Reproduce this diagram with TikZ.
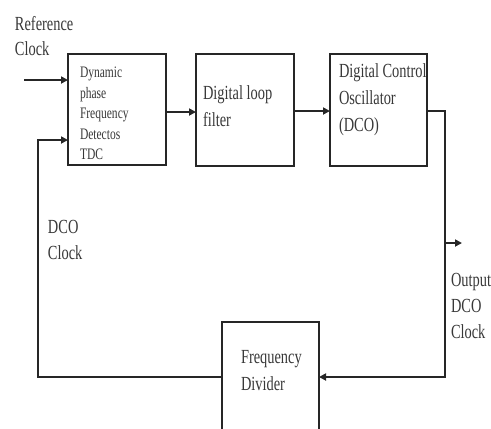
\documentclass[tikz,border=0pt]{standalone}
\usepackage{fontspec}
\setmainfont{Liberation Serif}[FakeStretch=0.72]
\usetikzlibrary{arrows.meta}
\begin{document}
\begin{tikzpicture}[x=1pt,y=-1pt,
  line width=2.3pt,
  lc/.style={draw=black!85},
  blk/.style={lc,rectangle,inner sep=0,outer sep=0,anchor=north west},
  txt/.style={text=black!78,align=left,inner sep=0,outer sep=0,anchor=north west},
  arr/.style={lc,-{Triangle[length=7pt,width=7pt]}}
]
\useasboundingbox (0,0) rectangle (491,429);
\clip (0,0) rectangle (491,429);
% blocks
\node[blk,minimum width=98pt,minimum height=111pt] (pfd) at (68,54) {};
\node[blk,minimum width=98pt,minimum height=112pt] (lf) at (196,54) {};
\node[blk,minimum width=97pt,minimum height=112pt] (dco) at (330,54) {};
\node[blk,minimum width=97pt,minimum height=118pt] (div) at (222,322) {};
% texts
\node[txt,font=\fontsize{16}{20.5}\selectfont] (tpfd) at (80,67.4) {Dynamic\\phase\\Frequency\\Detectos\\TDC};
\node[txt,font=\fontsize{20}{27}\selectfont] (tlf) at (203,85.4) {Digital loop\\filter};
\node[txt,font=\fontsize{20}{27}\selectfont] (tdco) at (339,63.4) {Digital Control\\Oscillator\\(DCO)};
\node[txt,font=\fontsize{20}{27}\selectfont] (tdiv) at (241,350.4) {Frequency\\Divider};
\node[txt,font=\fontsize{20}{25}\selectfont] (tref) at (15,16.4) {Reference\\Clock};
\node[txt,font=\fontsize{20}{26}\selectfont] (tfb) at (48,219.8) {DCO\\Clock};
\node[txt,font=\fontsize{20}{26}\selectfont] (tout) at (451,273) {Output\\DCO\\Clock};
% coordinates
\coordinate (refin) at (24,80);
\coordinate (fbL) at (38,377);
\coordinate (outR) at (445,377);
\coordinate (outT) at (462,243);
% connectors
\draw[arr] (refin) -- (refin -| pfd.west);
\draw[arr] (pfd.east |- 0,112) -- (lf.west |- 0,112);
\draw[arr] (lf.east |- 0,111) -- (dco.west |- 0,111);
\draw[arr] (dco.east |- 0,111) -| (outR) -- (outR -| div.east);
\draw[arr] (outR |- outT) -- (outT);
\draw[arr] (fbL -| div.west) -- (fbL) |- (pfd.west |- 0,140);
\end{tikzpicture}
\end{document}
